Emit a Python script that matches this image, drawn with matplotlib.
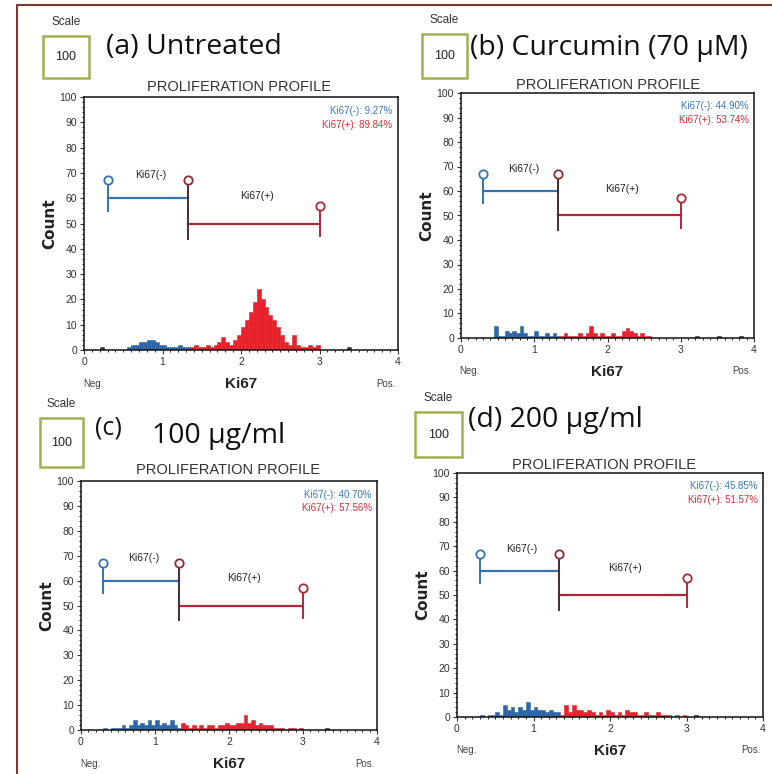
import numpy as np
import matplotlib
matplotlib.use("Agg")
import matplotlib.pyplot as plt
from matplotlib import font_manager
from matplotlib.patches import Rectangle
from matplotlib.ticker import MultipleLocator

# histogram bins (Ki67 intensity, width 0.05 from 0 to 4)
bin_width = 0.05
bin_centers = np.arange(80) * bin_width + bin_width / 2

counts_a = [0, 0, 0, 0, 1, 0, 0, 0, 0, 0,
            0, 1, 2, 2, 3, 3, 4, 4, 3, 2,
            2, 1, 1, 1, 2, 1, 1, 1, 2, 1,
            1, 2, 1, 2, 3, 5, 3, 2, 4, 6,
            9, 12, 15, 19, 24, 20, 17, 14, 12, 9,
            6, 3, 2, 6, 2, 1, 1, 2, 1, 2,
            0, 0, 0, 0, 0, 0, 0, 1, 0, 0,
            0, 0, 0, 0, 0, 0, 0, 0, 0, 0]
counts_b = [0, 0, 0, 0, 0, 0, 0, 0, 0, 5,
            1, 1, 3, 2, 3, 2, 5, 2, 1, 1,
            3, 1, 1, 2, 1, 2, 1, 1, 2, 1,
            1, 1, 2, 1, 2, 5, 2, 1, 2, 1,
            1, 2, 1, 1, 3, 4, 3, 2, 1, 2,
            1, 1, 0, 0, 0, 0, 0, 0, 0, 0,
            0, 0, 0, 0, 1, 0, 0, 0, 0, 0,
            1, 0, 0, 0, 0, 0, 1, 0, 0, 0]
counts_c = [0, 0, 0, 0, 0, 0, 1, 0, 1, 1,
            1, 2, 1, 2, 4, 2, 3, 2, 4, 2,
            4, 2, 3, 2, 4, 2, 1, 3, 2, 1,
            2, 1, 2, 1, 2, 2, 1, 2, 2, 3,
            2, 2, 3, 3, 6, 3, 4, 2, 3, 2,
            2, 2, 1, 1, 1, 0, 1, 1, 0, 1,
            0, 0, 0, 0, 0, 0, 1, 0, 0, 0,
            0, 0, 0, 0, 0, 0, 0, 0, 0, 0]
counts_d = [0, 0, 0, 0, 0, 0, 1, 0, 1, 1,
            2, 1, 5, 3, 4, 2, 4, 3, 6, 3,
            4, 3, 3, 2, 3, 2, 2, 1, 5, 2,
            5, 3, 3, 2, 3, 2, 1, 2, 1, 3,
            2, 1, 2, 1, 3, 2, 2, 1, 1, 2,
            1, 1, 2, 1, 1, 1, 0, 1, 0, 1,
            0, 0, 1, 0, 0, 0, 0, 0, 0, 0,
            0, 0, 0, 0, 0, 0, 0, 0, 0, 0]

panel_counts = [counts_a, counts_b, counts_c, counts_d]
neg_pct = ["9.27%", "44.90%", "40.70%", "45.85%"]
pos_pct = ["89.84%", "53.74%", "57.56%", "51.57%"]

neg_gate = [0.3, 1.33]   # Ki67(-) marker, drawn at count 60
pos_gate = [1.33, 3.0]   # Ki67(+) marker, drawn at count 50

# fonts
installed = {f.name for f in font_manager.fontManager.ttflist}
narrow = "Liberation Sans Narrow" if "Liberation Sans Narrow" in installed else "Liberation Sans"
head_font = ["Open Sans", "DejaVu Sans"]

blue = "#2d66a8"
red = "#e8222c"
gate_blue = "#3473b0"
gate_red = "#b02838"

fig = plt.figure(figsize=(7.72, 7.74), dpi=100)
W, H = 772, 774


def fx(x):
    return x / W


def fy(y):
    return 1 - y / H


# panel layout in pixels: axes (left, top, right, bottom), title centre, scale box
panels = [
    dict(ax=(84, 97, 398, 350), title=(239, 87), box=(43, 36, 89, 78)),
    dict(ax=(461, 93, 754, 338), title=(608, 85), box=(422, 34, 467, 78)),
    dict(ax=(81, 481, 377, 730), title=(228, 470), box=(40, 418, 83, 467)),
    dict(ax=(457, 473, 763, 717), title=(604, 465), box=(415, 412, 462, 457)),
]

for k, p in enumerate(panels):
    l, t, r, b = p["ax"]
    ax = fig.add_axes([fx(l), fy(b), (r - l) / W, (b - t) / H])
    counts = np.array(panel_counts[k])

    cols = []
    for c in bin_centers:
        if neg_gate[0] <= c < neg_gate[1]:
            cols.append(blue)
        elif pos_gate[0] <= c <= pos_gate[1]:
            cols.append(red)
        else:
            cols.append("#333333")
    ax.bar(bin_centers, counts, width=bin_width, color=cols, edgecolor=cols,
           linewidth=0.4)

    # gates
    ax.plot(neg_gate, [60, 60], color=gate_blue, lw=1.6)
    ax.plot([neg_gate[0]] * 2, [55, 65], color=gate_blue, lw=1.4)
    ax.plot([neg_gate[1]] * 2, [55, 65], color="#4a2a30", lw=1.4)
    ax.plot(pos_gate, [50, 50], color=gate_red, lw=1.6)
    ax.plot([pos_gate[0]] * 2, [44, 55], color="#4a2a30", lw=1.4)
    ax.plot([pos_gate[1]] * 2, [45, 55], color=gate_red, lw=1.4)
    ax.plot([neg_gate[0]], [67], "o", ms=6, mfc="white", mec=gate_blue, mew=1.3)
    ax.plot([neg_gate[1]], [67], "o", ms=6, mfc="white", mec="#8a2a35", mew=1.3)
    ax.plot([pos_gate[1]], [57], "o", ms=6, mfc="white", mec=gate_red, mew=1.3)
    ax.text(0.85, 69, "Ki67(-)", fontsize=7.5, family=narrow, ha="center",
            va="center", color="#222222")
    ax.text(2.2, 61, "Ki67(+)", fontsize=7.5, family=narrow, ha="center",
            va="center", color="#222222")

    ax.text(3.93, 94.5, "Ki67(-): " + neg_pct[k], fontsize=7, family=narrow,
            ha="right", va="center", color="#3b78b8")
    ax.text(3.93, 89, "Ki67(+): " + pos_pct[k], fontsize=7, family=narrow,
            ha="right", va="center", color="#d0303a")

    ax.set_xlim(0, 4)
    ax.set_ylim(0, 100)
    ax.set_xticks([0, 1, 2, 3, 4])
    ax.set_yticks(range(0, 101, 10))
    ax.xaxis.set_minor_locator(MultipleLocator(0.1))
    ax.yaxis.set_minor_locator(MultipleLocator(2))
    ax.tick_params(labelsize=7.5, colors="#333333", length=3, width=0.8, pad=2)
    ax.tick_params(which="minor", length=1.5, width=0.6)
    for lab in ax.get_xticklabels() + ax.get_yticklabels():
        lab.set_family(narrow)
    for s in ax.spines.values():
        s.set_linewidth(1.1)
        s.set_color("#111111")

    ax.set_ylabel("Count", fontsize=11, fontweight="bold", labelpad=2,
                  color="#222222")
    ax.set_xlabel("Ki67", fontsize=11, family=narrow, fontweight="bold",
                  labelpad=7, color="#222222")
    ax.text(0.03, -0.135, "Neg.", transform=ax.transAxes, fontsize=7,
            family=narrow, ha="center", va="center", color="#444444")
    ax.text(0.96, -0.135, "Pos.", transform=ax.transAxes, fontsize=7,
            family=narrow, ha="center", va="center", color="#444444")

    tx, ty = p["title"]
    fig.text(fx(tx), fy(ty), "PROLIFERATION PROFILE", fontsize=10.5,
             family=narrow, ha="center", va="center", color="#333333")

    bx0, by0, bx1, by1 = p["box"]
    fig.patches.append(Rectangle((fx(bx0), fy(by1)), (bx1 - bx0) / W,
                                 (by1 - by0) / H, transform=fig.transFigure,
                                 fill=False, edgecolor="#a3b052", lw=1.8))
    fig.text(fx((bx0 + bx1) / 2), fy((by0 + by1) / 2), "100", fontsize=9,
             family=narrow, ha="center", va="center", color="#222222")
    fig.text(fx((bx0 + bx1) / 2), fy(by0 - 14), "Scale", fontsize=8.5,
             family=narrow, ha="center", va="center", color="#333333")

# panel headings
fig.text(fx(106), fy(47), "(a) Untreated", fontsize=20.5, family=head_font,
         ha="left", va="center", color="#111111")
fig.text(fx(470), fy(48), "(b) Curcumin (70 \u00b5M)", fontsize=20.5,
         family=head_font, ha="left", va="center", color="#111111")
fig.text(fx(95), fy(428), "(c)", fontsize=18, family=head_font,
         ha="left", va="center", color="#111111")
fig.text(fx(152), fy(436), "100 \u00b5g/ml", fontsize=20.5, family=head_font,
         ha="left", va="center", color="#111111")
fig.text(fx(468), fy(420), "(d) 200 \u00b5g/ml", fontsize=20.5,
         family=head_font, ha="left", va="center", color="#111111")

# outer frame of the figure
fig.patches.append(Rectangle((fx(17), fy(790)), (800 - 17) / W, (790 - 5) / H,
                             transform=fig.transFigure, fill=False,
                             edgecolor="#7a3a2c", lw=1.5))

fig.savefig("out.png", dpi=100)
